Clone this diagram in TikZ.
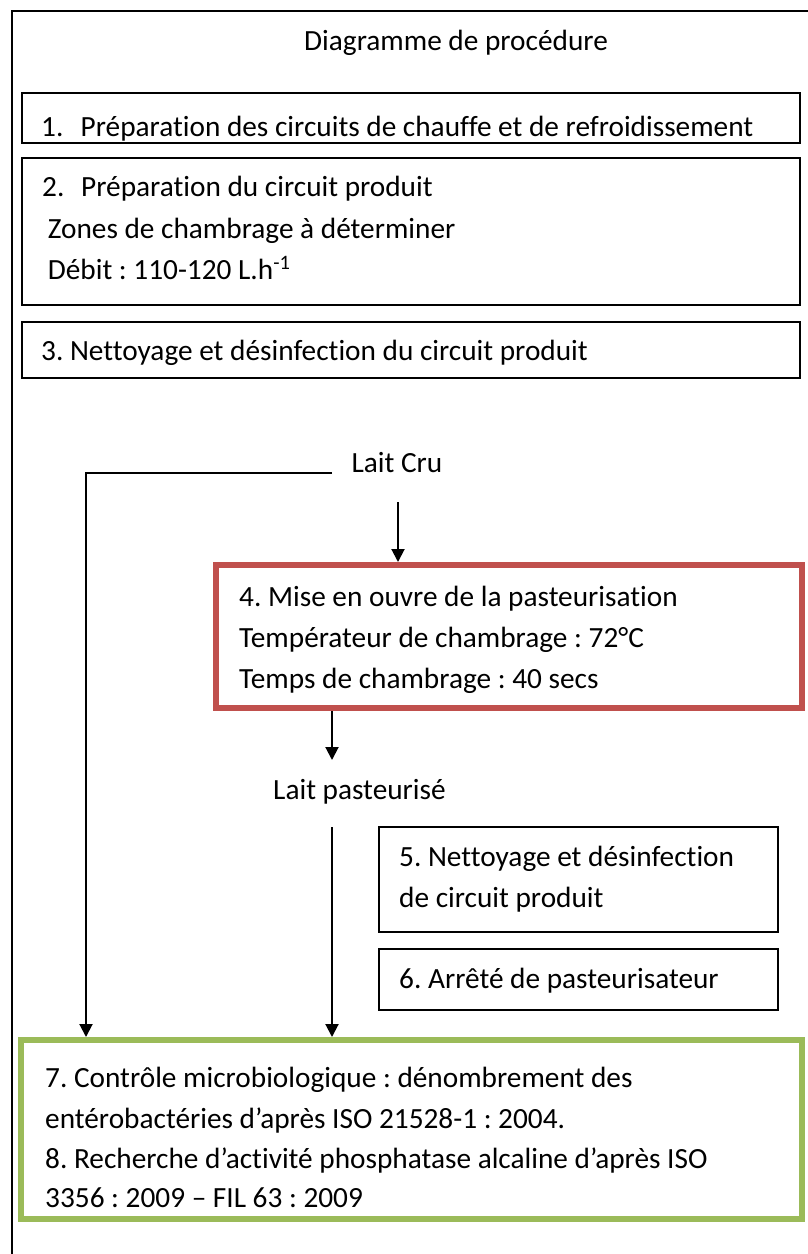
\documentclass[tikz,border=0pt]{standalone}
\usepackage{fontspec}
\setmainfont{Carlito}[Ligatures=CommonOff]
\usetikzlibrary{arrows.meta}
\definecolor{boxred}{HTML}{C0504D}
\definecolor{boxgreen}{HTML}{9BBB59}
\frenchspacing
\begin{document}
\begin{tikzpicture}[x=1pt,y=-1pt,
  txt/.style={anchor=base west,inner sep=0pt,font=\fontsize{29.3}{34}\selectfont},
  ctxt/.style={anchor=base,inner sep=0pt,font=\fontsize{29.3}{34}\selectfont},
  boxbase/.style={rectangle,anchor=north west,inner sep=0pt},
  blackbox/.style={boxbase,draw=black,line width=2pt},
  redbox/.style={boxbase,draw=boxred,line width=6pt},
  greenbox/.style={boxbase,draw=boxgreen,line width=6pt},
  conn/.style={line width=2pt},
  arr/.style={conn,-{Triangle[width=13pt,length=13pt]}},
]
\useasboundingbox (0,0) rectangle (808,1254);
\fill[white] (0,0) rectangle (808,1254);
\begin{scope}
\clip (0,0) rectangle (808,1254);
\draw[line width=2pt] (12,11) rectangle (900,1400);
\end{scope}

% title
\node[ctxt] (title) at (456,50) {Diagramme de procédure};

% box 1
\node[blackbox,minimum width=778pt,minimum height=50pt] (b1) at (21,92) {};
\begin{scope}
\clip (b1.north west) rectangle (b1.south east);
\node[txt] (t1) at (41,136) {\makebox[39.5pt][l]{1.}Préparation des circuits de chauffe et de refroidissement};
\end{scope}

% box 2
\node[blackbox,minimum width=778pt,minimum height=147pt] (b2) at (21,157) {};
\node[txt] (t2a) at (42,196) {\makebox[39pt][l]{2.}Préparation du circuit produit};
\node[txt] (t2b) at (41,238) {\ Zones de chambrage à déterminer};
\node[txt] (t2c) at (41,279) {\ Débit : 110-120 L.h\textsuperscript{-1}};

% box 3
\node[blackbox,minimum width=778pt,minimum height=56pt] (b3) at (21,321) {};
\node[txt] (t3) at (41,360) {3. Nettoyage et désinfection du circuit produit};

% Lait cru
\node[ctxt] (laitcru) at (397,472) {Lait Cru};

% red box
\node[redbox,minimum width=586pt,minimum height=143pt] (red) at (213,562) {};
\node[txt] (t4a) at (239,606) {4. Mise en ouvre de la pasteurisation};
\node[txt] (t4b) at (239,647) {Températeur de chambrage : 72°C};
\node[txt] (t4c) at (239,688) {Temps de chambrage : 40 secs};

% Lait pasteurise
\node[txt] (laitpast) at (273,799) {Lait pasteurisé};

% box 5
\node[blackbox,minimum width=399pt,minimum height=105pt] (b5) at (378,826) {};
\node[txt] (t5a) at (399,866) {5. Nettoyage et désinfection};
\node[txt] (t5b) at (399,907) {de circuit produit};

% box 6
\node[blackbox,minimum width=399pt,minimum height=61pt] (b6) at (378,948) {};
\node[txt] (t6) at (399,988) {6. Arrêté de pasteurisateur};

% green box
\node[greenbox,minimum width=781pt,minimum height=179pt] (green) at (18,1037) {};
\node[txt] (t7a) at (45,1087) {7. Contrôle microbiologique : dénombrement des};
\node[txt] (t7b) at (45,1128) {entérobactéries d’après ISO 21528-1 : 2004.};
\node[txt] (t8a) at (45,1168) {8. Recherche d’activité phosphatase alcaline d’après ISO};
\node[txt] (t8b) at (45,1207) {3356 : 2009 – FIL 63 : 2009};

% connectors
\coordinate (c1) at (332,473);
\coordinate (c2) at (86,473);
\draw[arr] (c1) -- (c2) -- (c2 |- green.north);
\coordinate (a1) at (398,502);
\draw[arr] (a1) -- (a1 |- red.north);
\coordinate (a2) at (332,760);
\draw[arr] (a2 |- red.south) -- (a2);
\coordinate (a3) at (332,827);
\draw[arr] (a3) -- (a3 |- green.north);
\end{tikzpicture}
\end{document}
